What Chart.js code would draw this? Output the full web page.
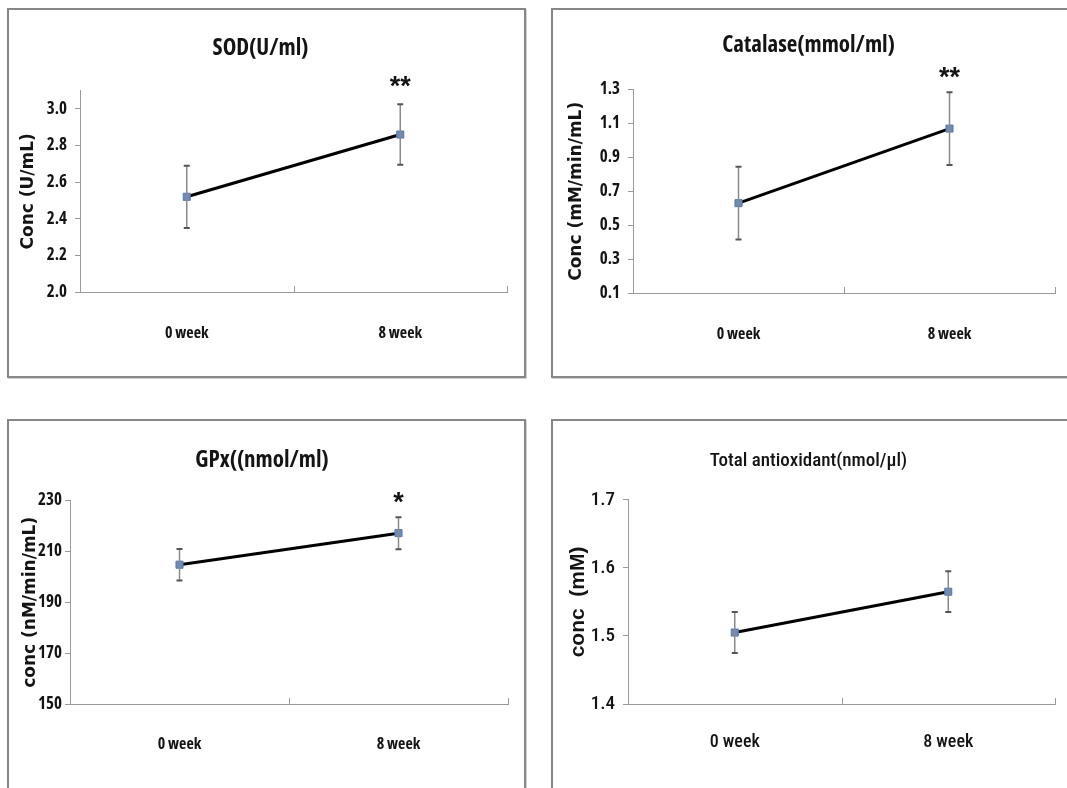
<!DOCTYPE html>
<html>
<head>
<meta charset="utf-8">
<script src="https://cdn.jsdelivr.net/npm/chart.js@4"></script>
<style>
  html, body { margin: 0; padding: 0; background: #fff; }
  body { width: 1067px; height: 788px; position: relative; overflow: hidden; }
  .frame { position: absolute; box-sizing: border-box; border: 2px solid #878787; box-shadow: 1px 1px 0 #d4d4d4; }
  canvas { position: absolute; }
</style>
</head>
<body>
<div class="frame" style="left:7px;top:8px;width:519px;height:370px"></div>
<div class="frame" style="left:551px;top:8px;width:540px;height:370px"></div>
<div class="frame" style="left:7px;top:419px;width:519px;height:390px"></div>
<div class="frame" style="left:551px;top:419px;width:540px;height:390px"></div>

<canvas id="sod" width="515" height="366" style="left:9px;top:10px"></canvas>
<canvas id="cat" width="514" height="366" style="left:553px;top:10px"></canvas>
<canvas id="gpx" width="515" height="367" style="left:9px;top:421px"></canvas>
<canvas id="tao" width="514" height="367" style="left:553px;top:421px"></canvas>

<script>
// Time points
const weeks = ['0 week', '8 week'];

// SOD (U/ml): mean and error
const sodMean = [2.52, 2.86];
const sodErr = [0.17, 0.165];
const sodSig = ['', '**'];
const sodTicks = ['2.0', '2.2', '2.4', '2.6', '2.8', '3.0'];

// Catalase (mmol/ml)
const catMean = [0.63, 1.07];
const catErr = [0.215, 0.215];
const catSig = ['', '**'];
const catTicks = ['0.1', '0.3', '0.5', '0.7', '0.9', '1.1', '1.3'];

// GPx (nmol/ml)
const gpxMean = [204.8, 217.2];
const gpxErr = [6.2, 6.3];
const gpxSig = ['', '*'];
const gpxTicks = ['150', '170', '190', '210', '230'];

// Total antioxidant (nmol/µl)
const taoMean = [1.505, 1.565];
const taoErr = [0.03, 0.03];
const taoSig = ['', ''];
const taoTicks = ['1.4', '1.5', '1.6', '1.7'];

const AXIS_GREY = '#9a9a9a';
const INK = '#141414';

// Vertical error bars with caps, plus significance marks above them
const errorBars = {
  id: 'errorBars',
  afterDatasetsDraw(chart, args, opts) {
    const { ctx, scales: { x, y } } = chart;
    const data = chart.data.datasets[0].data;
    ctx.save();
    data.forEach((v, i) => {
      const e = opts.errors[i];
      const px = x.getPixelForValue(i);
      const top = y.getPixelForValue(v + e);
      const bot = y.getPixelForValue(v - e);
      ctx.strokeStyle = '#8a8a8a';
      ctx.lineWidth = 1.5;
      ctx.beginPath();
      ctx.moveTo(px, top);
      ctx.lineTo(px, bot);
      ctx.stroke();
      ctx.strokeStyle = '#555';
      ctx.lineWidth = 2;
      ctx.beginPath();
      ctx.moveTo(px - 3, top); ctx.lineTo(px + 3, top);
      ctx.moveTo(px - 3, bot); ctx.lineTo(px + 3, bot);
      ctx.stroke();
      const mark = opts.marks[i];
      if (mark) {
        ctx.fillStyle = INK;
        ctx.font = 'bold 27px "Liberation Sans", sans-serif';
        ctx.textAlign = 'center';
        ctx.textBaseline = 'alphabetic';
        ctx.fillText(mark, px, top - opts.markGap);
      }
    });
    ctx.restore();
  }
};

// Short upward tick marks on the category axis at category boundaries
const innerTicks = {
  id: 'innerTicks',
  afterDraw(chart) {
    const { ctx, scales: { x } } = chart;
    const n = chart.data.labels.length;
    ctx.save();
    ctx.strokeStyle = AXIS_GREY;
    ctx.lineWidth = 1;
    ctx.beginPath();
    for (let i = 1; i <= n; i++) {
      const px = Math.round(x.getPixelForValue(i - 0.5)) + 0.5;
      ctx.moveTo(px, x.top);
      ctx.lineTo(px, x.top - 6);
    }
    ctx.stroke();
    ctx.restore();
  }
};

function makePanel(id, p) {
  const tickVals = p.ticks.map(Number);
  return new Chart(document.getElementById(id), {
    type: 'line',
    data: {
      labels: weeks,
      datasets: [{
        data: p.mean,
        borderColor: '#000',
        borderWidth: 3,
        tension: 0,
        pointStyle: 'rect',
        pointRadius: 5,
        pointBackgroundColor: '#6c8aba',
        pointBorderColor: '#5b79a8',
        pointBorderWidth: 1
      }]
    },
    options: {
      responsive: false,
      animation: false,
      devicePixelRatio: 1,
      layout: { padding: p.pad },
      plugins: {
        legend: { display: false },
        tooltip: { enabled: false },
        title: {
          display: true,
          text: p.title,
          color: INK,
          font: p.titleFont,
          padding: p.titlePad
        },
        errorBars: { errors: p.err, marks: p.sig, markGap: p.markGap }
      },
      scales: {
        x: {
          type: 'category',
          offset: true,
          grid: { display: false, drawTicks: false },
          border: { display: true, color: AXIS_GREY, width: 1 },
          ticks: { color: INK, font: p.xFont, padding: p.xPad, maxRotation: 0 },
          afterFit: s => { s.height = 70; }
        },
        y: {
          min: p.min,
          max: p.max,
          afterBuildTicks: s => { s.ticks = tickVals.map(v => ({ value: v })); },
          afterFit: s => { s.width = p.yWidth; },
          grid: { drawOnChartArea: false, tickLength: 5, color: AXIS_GREY },
          border: { display: true, color: AXIS_GREY, width: 1 },
          ticks: {
            color: INK,
            font: p.yFont,
            padding: p.yPad,
            callback: (v, i) => p.ticks[i]
          },
          title: {
            display: true,
            text: p.yTitle,
            color: INK,
            font: p.yTitleFont,
            padding: { top: 4, bottom: 4 }
          }
        }
      }
    },
    plugins: [errorBars, innerTicks]
  });
}

// Narrow faces: the font-stretch keyword rides along in the weight slot;
// wide faces ask for 'expanded' so the full-width face is chosen again.
const NARROW_BOLD = { family: '"Open Sans", sans-serif', weight: 'condensed bold' };
const boldFonts = {
  titleFont: { ...NARROW_BOLD, size: 23 },
  yFont: { ...NARROW_BOLD, size: 17 },
  xFont: { ...NARROW_BOLD, size: 16 },
  yTitleFont: { family: '"DejaVu Sans", Verdana, sans-serif', size: 17, weight: 'expanded bold' }
};
const NARROW_PLAIN = { family: 'Roboto, sans-serif', weight: 'condensed 500' };

makePanel('sod', Object.assign({
  title: 'SOD(U/ml)', yTitle: 'Conc (U/mL)',
  mean: sodMean, err: sodErr, sig: sodSig, ticks: sodTicks, min: 2.0, max: 3.1,
  pad: { left: 5, right: 17, top: 0, bottom: 14 }, yWidth: 66,
  titlePad: { top: 25, bottom: 28 }, xPad: 32, yPad: 8, markGap: 9
}, boldFonts));

makePanel('cat', Object.assign({
  title: 'Catalase(mmol/ml)', yTitle: 'Conc (mM/min/mL)',
  mean: catMean, err: catErr, sig: catSig, ticks: catTicks, min: 0.1, max: 1.3,
  pad: { left: 9, right: 12, top: 0, bottom: 13 }, yWidth: 71,
  titlePad: { top: 22, bottom: 30 }, xPad: 32, yPad: 8, markGap: 6
}, boldFonts));

makePanel('gpx', Object.assign({
  title: 'GPx((nmol/ml)', yTitle: 'conc (nM/min/mL)',
  mean: gpxMean, err: gpxErr, sig: gpxSig, ticks: gpxTicks, min: 150, max: 230,
  pad: { left: 7, right: 16, top: 0, bottom: 14 }, yWidth: 54,
  titlePad: { top: 26, bottom: 26 }, xPad: 31, yPad: 3, markGap: 6
}, boldFonts));

makePanel('tao', {
  title: 'Total antioxidant(nmol/µl)', yTitle: 'conc  (mM)',
  mean: taoMean, err: taoErr, sig: taoSig, ticks: taoTicks, min: 1.4, max: 1.7,
  pad: { left: 9, right: 12, top: 0, bottom: 14 }, yWidth: 66,
  titlePad: { top: 29, bottom: 27 }, xPad: 28, yPad: 8, markGap: 6,
  titleFont: { ...NARROW_PLAIN, size: 19 },
  yFont: { ...NARROW_PLAIN, size: 19 },
  xFont: { ...NARROW_PLAIN, size: 18 },
  yTitleFont: { family: '"Liberation Sans", Arial, sans-serif', size: 21, weight: 'expanded bold' }
});
</script>
</body>
</html>
